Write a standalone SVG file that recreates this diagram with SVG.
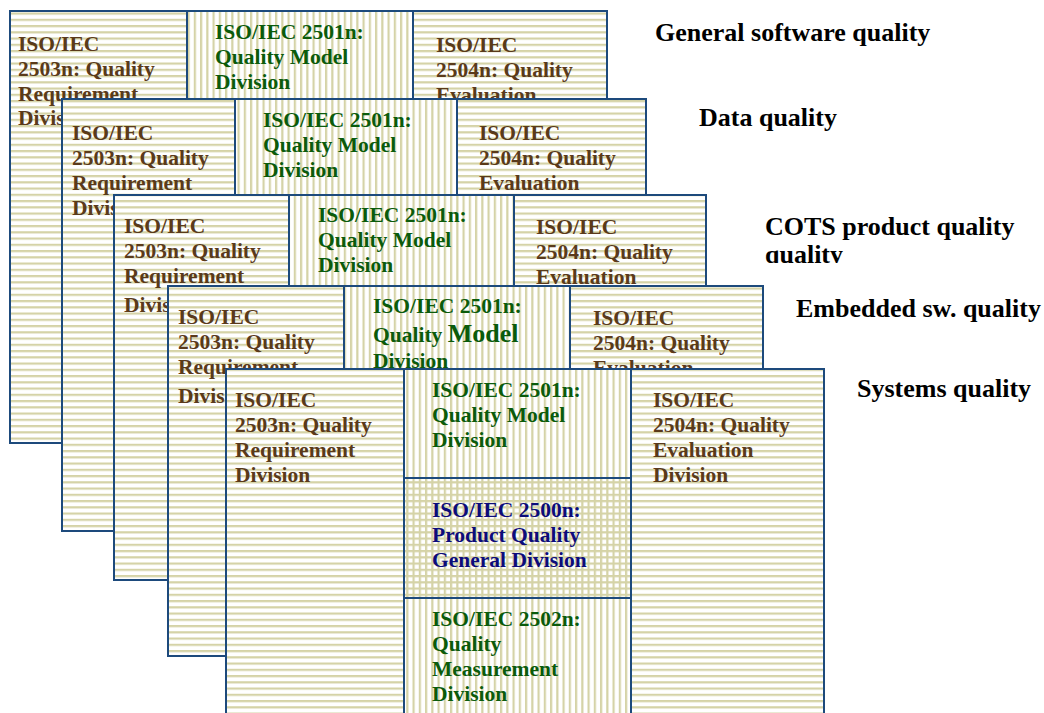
<svg xmlns="http://www.w3.org/2000/svg" width="1044" height="713" viewBox="0 0 1044 713">
<defs>
<pattern id="ph" patternUnits="userSpaceOnUse" width="12.5" height="6.25"><rect width="12.5" height="6.25" fill="#ffffff"/><rect y="0" width="12.5" height="2.2" fill="#d5d3a7"/></pattern>
<pattern id="pv" patternUnits="userSpaceOnUse" width="6.25" height="12.5"><rect width="6.25" height="12.5" fill="#ffffff"/><rect x="0" width="2.2" height="12.5" fill="#d5d3a7"/></pattern>
<pattern id="pg" patternUnits="userSpaceOnUse" width="6.25" height="6.25"><rect width="6.25" height="6.25" fill="#ffffff"/><rect width="6.25" height="2.2" fill="#d5d3a7"/><rect width="2.2" height="6.25" fill="#d5d3a7"/></pattern>
<clipPath id="cotsclip"><rect x="700" y="200" width="344" height="63"/></clipPath>
</defs>
<style>
.h{fill:url(#ph);stroke:#1d4a7c;stroke-width:2}
.v{fill:url(#pv);stroke:#1d4a7c;stroke-width:2}
.g{fill:url(#pg);stroke:#1d4a7c;stroke-width:2}
text{font-family:"Liberation Serif","Times New Roman",serif;font-weight:bold;font-size:21.5px}
.br{fill:#5a3a1a}
.gr{fill:#0b5b0b}
.nv{fill:#0c0c7a}
.t{fill:#000000;font-size:26px}
</style>
<rect width="1044" height="713" fill="#ffffff"/>

<g id="layer1">
<g id="l1-left"><rect class="h" x="10" y="11" width="177" height="432"/>
<text class="br"><tspan x="18" y="51">ISO/IEC</tspan><tspan x="18" y="76">2503n: Quality</tspan><tspan x="18" y="101">Requirement</tspan><tspan x="18" y="125">Divis</tspan></text></g>
<g id="l1-right"><rect class="h" x="413" y="11" width="194" height="432"/>
<text class="br"><tspan x="436" y="52">ISO/IEC</tspan><tspan x="436" y="77">2504n: Quality</tspan><tspan x="436" y="102">Evaluation</tspan></text></g>
<g id="l1-mid"><rect class="v" x="187" y="11" width="226" height="432"/>
<text class="gr"><tspan x="215" y="39">ISO/IEC 2501n:</tspan><tspan x="215" y="64">Quality Model</tspan><tspan x="215" y="89">Division</tspan></text></g>
</g>

<g id="layer2">
<g id="l2-left"><rect class="h" x="62" y="99" width="173" height="432"/>
<text class="br"><tspan x="72" y="140">ISO/IEC</tspan><tspan x="72" y="165">2503n: Quality</tspan><tspan x="72" y="190">Requirement</tspan><tspan x="72" y="215">Divis</tspan></text></g>
<g id="l2-right"><rect class="h" x="457" y="99" width="189" height="432"/>
<text class="br"><tspan x="479" y="140">ISO/IEC</tspan><tspan x="479" y="165">2504n: Quality</tspan><tspan x="479" y="190">Evaluation</tspan></text></g>
<g id="l2-mid"><rect class="v" x="235" y="99" width="222" height="432"/>
<text class="gr"><tspan x="263" y="127">ISO/IEC 2501n:</tspan><tspan x="263" y="152">Quality Model</tspan><tspan x="263" y="177">Division</tspan></text></g>
</g>

<g id="layer3">
<g id="l3-left"><rect class="h" x="114" y="195" width="175" height="385"/>
<text class="br"><tspan x="124" y="233">ISO/IEC</tspan><tspan x="124" y="258">2503n: Quality</tspan><tspan x="124" y="283">Requirement</tspan><tspan x="124" y="312">Divis</tspan></text></g>
<g id="l3-right"><rect class="h" x="514" y="195" width="192" height="385"/>
<text class="br"><tspan x="536" y="234">ISO/IEC</tspan><tspan x="536" y="259">2504n: Quality</tspan><tspan x="536" y="284">Evaluation</tspan></text></g>
<g id="l3-mid"><rect class="v" x="289" y="195" width="225" height="385"/>
<text class="gr"><tspan x="318" y="222">ISO/IEC 2501n:</tspan><tspan x="318" y="247">Quality Model</tspan><tspan x="318" y="272">Division</tspan></text></g>
</g>

<g id="layer4">
<g id="l4-left"><rect class="h" x="168" y="286" width="176" height="370"/>
<text class="br"><tspan x="178" y="324">ISO/IEC</tspan><tspan x="178" y="349">2503n: Quality</tspan><tspan x="178" y="374">Requirement</tspan><tspan x="178" y="403">Divis</tspan></text></g>
<g id="l4-right"><rect class="h" x="570" y="286" width="193" height="370"/>
<text class="br"><tspan x="593" y="325">ISO/IEC</tspan><tspan x="593" y="350">2504n: Quality</tspan><tspan x="593" y="375">Evaluation</tspan></text></g>
<g id="l4-mid"><rect class="v" x="344" y="286" width="226" height="370"/>
<text class="gr"><tspan x="373" y="313">ISO/IEC 2501n:</tspan><tspan x="373" y="342">Quality <tspan font-size="26">Model</tspan></tspan><tspan x="373" y="368">Division</tspan></text></g>
</g>

<g id="layer5">
<g id="l5-left"><rect class="h" x="226" y="369" width="178" height="360"/>
<text class="br"><tspan x="235" y="407">ISO/IEC</tspan><tspan x="235" y="432">2503n: Quality</tspan><tspan x="235" y="457">Requirement</tspan><tspan x="235" y="482">Division</tspan></text></g>
<g id="l5-right"><rect class="h" x="631" y="369" width="193" height="360"/>
<text class="br"><tspan x="653" y="407">ISO/IEC</tspan><tspan x="653" y="432">2504n: Quality</tspan><tspan x="653" y="457">Evaluation</tspan><tspan x="653" y="482">Division</tspan></text></g>
<g id="l5-model"><rect class="v" x="404" y="369" width="227" height="109"/>
<text class="gr"><tspan x="432" y="397">ISO/IEC 2501n:</tspan><tspan x="432" y="422">Quality Model</tspan><tspan x="432" y="447">Division</tspan></text></g>
<g id="l5-general"><rect class="g" x="404" y="478" width="227" height="120"/>
<text class="nv"><tspan x="432" y="517">ISO/IEC 2500n:</tspan><tspan x="432" y="542">Product Quality</tspan><tspan x="432" y="567">General Division</tspan></text></g>
<g id="l5-measure"><rect class="v" x="404" y="598" width="227" height="131"/>
<text class="gr"><tspan x="432" y="626">ISO/IEC 2502n:</tspan><tspan x="432" y="651">Quality</tspan><tspan x="432" y="676">Measurement</tspan><tspan x="432" y="701">Division</tspan></text></g>
</g>

<g id="titles">
<text id="t1" class="t" x="655" y="41">General software quality</text>
<text id="t2" class="t" x="699" y="126">Data quality</text>
<g id="t3" clip-path="url(#cotsclip)"><text class="t"><tspan x="765" y="235">COTS product quality</tspan><tspan x="765" y="263">quality</tspan></text></g>
<text id="t4" class="t" x="796" y="317">Embedded sw. quality</text>
<text id="t5" class="t" x="857" y="397">Systems quality</text>
</g>
</svg>
